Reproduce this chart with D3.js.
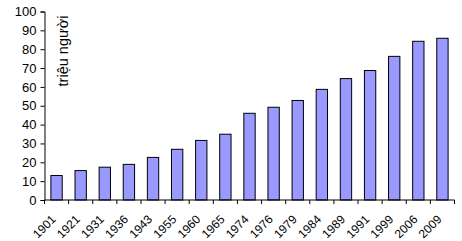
<!DOCTYPE html>
<html>
<head>
<meta charset="utf-8">
<script src="https://cdn.jsdelivr.net/npm/d3@7"></script>
<style>
  body { margin: 0; background: #fff; }
  text { font-family: "Liberation Sans", Arial, sans-serif; fill: #000; }
</style>
</head>
<body>
<div id="chart"></div>
<script>
// data
const years = ["1901", "1921", "1931", "1936", "1943", "1955", "1960", "1965", "1974",
  "1976", "1979", "1984", "1989", "1991", "1999", "2006", "2009"]
const population = [13.0, 15.6, 17.4, 18.9, 22.6, 26.9, 31.6, 34.9, 46.0,
  49.2, 52.8, 58.7, 64.4, 68.7, 76.2, 84.2, 85.8]
const yTicks = [0, 10, 20, 30, 40, 50, 60, 70, 80, 90, 100]
const yLabel = "triệu người"

const width = 462
const height = 241
const margin = { top: 11.5, right: 7.5, bottom: 41, left: 44.5 }
const boundedWidth = width - margin.left - margin.right
const boundedHeight = height - margin.top - margin.bottom

const svg = d3.select("#chart")
  .append("svg")
    .attr("width", width)
    .attr("height", height)

const g = svg.append("g")
  .attr("transform", "translate(" + margin.left + "," + margin.top + ")")

const x = d3.scaleBand()
  .domain(years)
  .range([0, boundedWidth])
  .paddingInner(0.53)
  .paddingOuter(0.265)

const y = d3.scaleLinear()
  .domain([0, 100])
  .range([boundedHeight, 0])

// bars
g.selectAll("rect")
  .data(years)
  .enter()
  .append("rect")
    .attr("x", (d, i) => x(d))
    .attr("y", (d, i) => y(population[i]))
    .attr("width", x.bandwidth())
    .attr("height", (d, i) => y(0) - y(population[i]))
    .attr("fill", "#9999ff")
    .attr("stroke", "#000")
    .attr("stroke-width", 1)

// y axis
const yAxis = g.append("g")
  .call(d3.axisLeft(y)
    .tickValues(yTicks)
    .tickSize(4)
    .tickPadding(4))
yAxis.select(".domain").attr("stroke", "#000")
yAxis.selectAll(".tick line").attr("stroke", "#000")
yAxis.selectAll("text")
  .style("font-size", "13px")

// x axis, ticks on category boundaries
const boundaries = d3.range(years.length + 1).map(i => i * boundedWidth / years.length)
const xAxis = g.append("g")
  .attr("transform", "translate(0," + boundedHeight + ")")
xAxis.append("line")
  .attr("x1", 0).attr("x2", boundedWidth)
  .attr("stroke", "#000")
xAxis.selectAll(".tk")
  .data(boundaries)
  .enter()
  .append("line")
    .attr("class", "tk")
    .attr("x1", d => d).attr("x2", d => d)
    .attr("y1", 0).attr("y2", 4)
    .attr("stroke", "#000")
xAxis.selectAll(".lbl")
  .data(years)
  .enter()
  .append("text")
    .attr("class", "lbl")
    .attr("text-anchor", "end")
    .attr("transform", d => "translate(" + (x(d) + x.bandwidth() / 2 - 6) + ",14) rotate(-45)")
    .attr("dy", "0.71em")
    .style("font-size", "12px")
    .text(d => d)

// y axis label
svg.append("text")
  .attr("transform", "translate(68,51) rotate(-90)")
  .attr("text-anchor", "middle")
  .style("font-size", "14.5px")
  .text(yLabel)
</script>
</body>
</html>
